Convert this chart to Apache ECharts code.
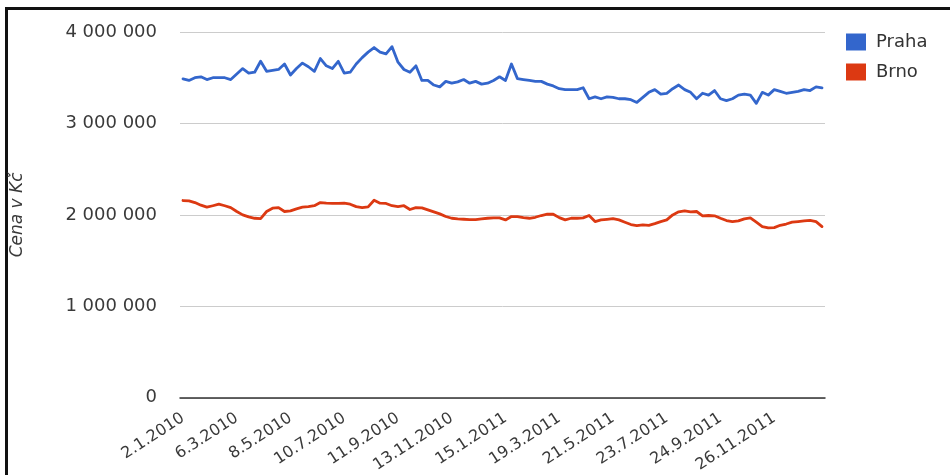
<!DOCTYPE html>
<html>
<head>
<meta charset="utf-8">
<title>Cena v Kč – Praha a Brno</title>
<script src="https://cdn.jsdelivr.net/npm/echarts@6/dist/echarts.min.js"></script>
<style>
  html, body { margin: 0; padding: 0; background: #fff; }
  #chart { width: 950px; height: 475px; }
</style>
</head>
<body>
<div id="chart"></div>
<script>
// Weekly observations, 2.1.2010 – 21.1.2012
const weeks = [
  '2.1.2010','9.1.2010','16.1.2010','23.1.2010','30.1.2010',
  '6.2.2010','13.2.2010','20.2.2010','27.2.2010',
  '6.3.2010','13.3.2010','20.3.2010','27.3.2010',
  '3.4.2010','10.4.2010','17.4.2010','24.4.2010',
  '1.5.2010','8.5.2010','15.5.2010','22.5.2010','29.5.2010',
  '5.6.2010','12.6.2010','19.6.2010','26.6.2010',
  '3.7.2010','10.7.2010','17.7.2010','24.7.2010','31.7.2010',
  '7.8.2010','14.8.2010','21.8.2010','28.8.2010',
  '4.9.2010','11.9.2010','18.9.2010','25.9.2010',
  '2.10.2010','9.10.2010','16.10.2010','23.10.2010','30.10.2010',
  '6.11.2010','13.11.2010','20.11.2010','27.11.2010',
  '4.12.2010','11.12.2010','18.12.2010','25.12.2010',
  '1.1.2011','8.1.2011','15.1.2011','22.1.2011','29.1.2011',
  '5.2.2011','12.2.2011','19.2.2011','26.2.2011',
  '5.3.2011','12.3.2011','19.3.2011','26.3.2011',
  '2.4.2011','9.4.2011','16.4.2011','23.4.2011','30.4.2011',
  '7.5.2011','14.5.2011','21.5.2011','28.5.2011',
  '4.6.2011','11.6.2011','18.6.2011','25.6.2011',
  '2.7.2011','9.7.2011','16.7.2011','23.7.2011','30.7.2011',
  '6.8.2011','13.8.2011','20.8.2011','27.8.2011',
  '3.9.2011','10.9.2011','17.9.2011','24.9.2011',
  '1.10.2011','8.10.2011','15.10.2011','22.10.2011','29.10.2011',
  '5.11.2011','12.11.2011','19.11.2011','26.11.2011',
  '3.12.2011','10.12.2011','17.12.2011','24.12.2011','31.12.2011',
  '7.1.2012','14.1.2012','21.1.2012'
];

// Dates shown under the axis (every ninth week)
const tickLabels = [
  '2.1.2010','6.3.2010','8.5.2010','10.7.2010','11.9.2010','13.11.2010',
  '15.1.2011','19.3.2011','21.5.2011','23.7.2011','24.9.2011','26.11.2011'
];

// Average price in thousands of CZK
const prahaK = [
  3487,3470,3500,3510,3480,3500,3500,3500,3480,3540,
  3600,3550,3560,3680,3570,3580,3590,3650,3530,3600,
  3660,3620,3570,3710,3630,3600,3680,3550,3560,3650,
  3720,3780,3830,3780,3760,3840,3670,3590,3560,3630,
  3470,3470,3420,3400,3460,3440,3455,3480,3440,3460,
  3430,3440,3470,3510,3470,3650,3490,3480,3470,3460,
  3460,3430,3410,3380,3370,3370,3370,3390,3270,3290,
  3270,3290,3285,3270,3270,3260,3230,3285,3340,3370,
  3320,3330,3380,3420,3370,3340,3270,3330,3310,3360,
  3270,3250,3270,3310,3320,3310,3220,3340,3310,3370,
  3350,3330,3340,3350,3370,3360,3400,3390
];

const brnoK = [
  2157,2154,2135,2106,2084,2100,2117,2100,2080,2037,
  2000,1978,1963,1960,2037,2073,2080,2037,2044,2066,
  2084,2090,2100,2135,2128,2125,2125,2128,2117,2090,
  2080,2088,2160,2128,2125,2100,2090,2100,2059,2080,
  2077,2055,2033,2011,1982,1963,1956,1952,1949,1949,
  1956,1963,1967,1967,1945,1982,1982,1970,1963,1974,
  1993,2007,2007,1970,1945,1963,1963,1967,1993,1927,
  1945,1952,1960,1945,1920,1894,1883,1890,1886,1905,
  1927,1945,2000,2033,2044,2033,2037,1990,1993,1990,
  1963,1938,1927,1934,1956,1967,1920,1872,1857,1861,
  1886,1900,1920,1927,1934,1941,1927,1872
];

const seriesNames = ['Praha', 'Brno'];
const seriesColors = ['#3366cc', '#dc3912'];

const FONT = '"DejaVu Sans", "Liberation Sans", Arial, sans-serif';

function spaced(v) {
  return String(v).replace(/\B(?=(\d{3})+(?!\d))/g, ' ');
}

const chart = echarts.init(document.getElementById('chart'), null, { renderer: 'canvas' });

chart.setOption({
  animation: false,
  backgroundColor: '#ffffff',
  graphic: [{
    type: 'rect',
    silent: true,
    shape: { x: 6.5, y: 8.5, width: 2000, height: 2000 },
    style: { fill: null, stroke: '#111111', lineWidth: 3 }
  }],
  grid: { left: 180, right: 125, top: 32, bottom: 77, containLabel: false },
  legend: {
    orient: 'vertical',
    left: 841,
    top: 28,
    icon: 'rect',
    itemWidth: 20,
    itemHeight: 17,
    itemGap: 12,
    data: seriesNames,
    textStyle: { fontFamily: FONT, fontSize: 18, color: '#333', padding: [0, 0, 0, 5] }
  },
  xAxis: {
    type: 'category',
    boundaryGap: true,
    data: weeks,
    axisLine: { show: true, lineStyle: { color: '#333333', width: 1.5 } },
    axisTick: { show: false },
    splitLine: { show: false },
    axisLabel: {
      rotate: 33,
      margin: 19,
      fontFamily: FONT,
      fontSize: 16,
      color: '#3a3a3a',
      interval: function (idx, value) { return tickLabels.indexOf(value) !== -1; }
    }
  },
  yAxis: {
    type: 'value',
    min: 0,
    max: 4000000,
    interval: 1000000,
    name: 'Cena v Kč',
    nameLocation: 'middle',
    nameRotate: 90,
    nameGap: 154,
    nameTextStyle: { fontFamily: FONT, fontSize: 17, fontStyle: 'italic', color: '#3a3a3a' },
    axisLine: { show: false },
    axisTick: { show: false },
    splitLine: { show: true, lineStyle: { color: '#cccccc', width: 1 } },
    axisLabel: {
      margin: 23,
      fontFamily: FONT,
      fontSize: 18,
      color: '#3a3a3a',
      formatter: spaced
    }
  },
  series: [
    {
      name: seriesNames[0],
      type: 'line',
      data: prahaK.map(v => v * 1000),
      showSymbol: false,
      color: seriesColors[0],
      lineStyle: { color: seriesColors[0], width: 2.8, join: 'round', cap: 'round' },
      z: 3
    },
    {
      name: seriesNames[1],
      type: 'line',
      data: brnoK.map(v => v * 1000),
      showSymbol: false,
      color: seriesColors[1],
      lineStyle: { color: seriesColors[1], width: 2.8, join: 'round', cap: 'round' },
      z: 3
    }
  ]
});
</script>
</body>
</html>
